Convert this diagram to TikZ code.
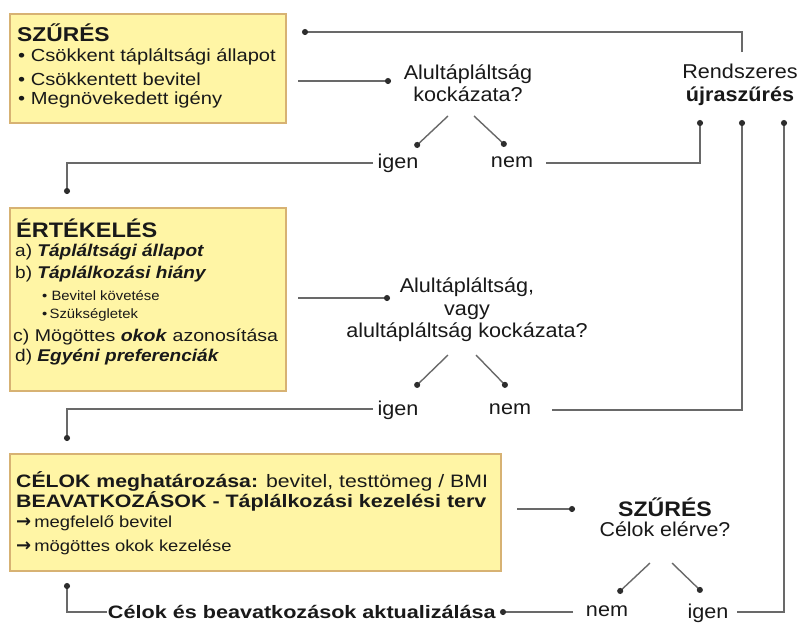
\documentclass[tikz,border=0pt]{standalone}
\usepackage{fontspec}
\setmainfont{Liberation Sans}
\newfontfamily\djv{DejaVu Sans}
\usetikzlibrary{arrows.meta}
\definecolor{boxfill}{RGB}{255,245,165}
\definecolor{boxline}{RGB}{215,178,115}
\definecolor{lin}{RGB}{105,105,105}
\definecolor{dot}{RGB}{45,45,45}
\definecolor{txt}{RGB}{25,25,25}
\newcommand{\fsz}[2]{\fontsize{#1}{#2}\selectfont}
\newcommand{\strc}[1]{\addfontfeature{FakeStretch=#1}}
\newcommand{\rarr}{{\djv\bfseries\fontsize{18}{18}\selectfont\symbol{"2192}}}
\tikzset{
  box/.style={draw=boxline, line width=1.5pt, fill=boxfill, anchor=north west, inner sep=0pt},
  conn/.style={draw=lin, line width=1.4pt, -{Circle[length=6pt, width=6pt, color=dot]}},
  lbl/.style={inner sep=0pt, text=txt, align=center, font={\fsz{20}{22.5}\strc{1.08}}},
  bl/.style={inner sep=0pt, anchor=west, text=txt},
}
\begin{document}
\begin{tikzpicture}[x=1pt,y=-1pt]
\useasboundingbox (0,0) rectangle (800,625);
\fill[white] (0,0) rectangle (800,625);

% ---------- boxes ----------
\node[box, minimum width=276pt, minimum height=109pt] (b1) at (9,13) {};
\node[box, minimum width=276pt, minimum height=183pt] (b2) at (9,207) {};
\node[box, minimum width=491pt, minimum height=117pt] (b3) at (9,453) {};

% box 1 text
\node[bl, font={\bfseries\fsz{20}{22}\strc{1.14}}] (b1h) at (17,33) {SZŰRÉS};
\node[bl, font={\fsz{17.5}{20}\strc{1.15}}] (b1a) at (18,57) {• Csökkent tápláltsági állapot};
\node[bl, font={\fsz{17.5}{20}\strc{1.15}}] (b1b) at (18,79) {• Csökkentett bevitel};
\node[bl, font={\fsz{17.5}{20}\strc{1.15}}] (b1c) at (18,100) {• Megnövekedett igény};

% box 2 text
\node[bl, font={\bfseries\fsz{21}{22}\strc{1.12}}] (b2h) at (16,228) {ÉRTÉKELÉS};
\node[bl, font={\fsz{17}{20}\strc{1.12}}] (b2a) at (15,252) {a) \textbf{\textit{Tápláltsági állapot}}};
\node[bl, font={\fsz{17}{20}\strc{1.12}}] (b2b) at (15,274) {b) \textbf{\textit{Táplálkozási hiány}}};
\node[bl, font={\fsz{13.5}{15}\strc{1.1}}] (b2c) at (42,296) {• Bevitel követése};
\node[bl, font={\fsz{13.5}{15}\strc{1.1}}] (b2d) at (42,315) {•\,Szükségletek};
\node[bl, font={\fsz{17}{20}\strc{1.15}}] (b2e) at (13,337) {c) Mögöttes \textbf{\textit{okok}} azonosítása};
\node[bl, font={\fsz{17}{20}\strc{1.12}}] (b2f) at (15,357) {d) \textbf{\textit{Egyéni preferenciák}}};

% box 3 text
\node[bl, font={\fsz{18}{20}\strc{1.18}}] (b3a) at (16,481) {\textbf{CÉLOK meghatározása:} bevitel, testtömeg / BMI};
\node[bl, font={\bfseries\fsz{18}{20}\strc{1.19}}] (b3b) at (16,501) {BEAVATKOZÁSOK - Táplálkozási kezelési terv};
\node[bl, font={\fsz{16}{18}\strc{1.15}}] (b3c) at (16,523) {\rarr\kern3pt megfelelő bevitel};
\node[bl, font={\fsz{16}{18}\strc{1.15}}] (b3d) at (16,547) {\rarr\kern3pt mögöttes okok kezelése};

% ---------- decision texts ----------
\node[lbl] (q1) at (468,83) {Alultápláltság\\kockázata?};
\node[lbl] (rs) at (740,85) {Rendszeres\\\textbf{újraszűrés}};
\node[lbl] (igen1) at (398,163) {igen};
\node[lbl] (nem1) at (512,162) {nem};

\node[lbl] (q2) at (467,310) {Alultápláltság,\\vagy\\alultápláltság kockázata?};
\node[lbl] (igen2) at (398,410) {igen};
\node[lbl] (nem2) at (510,409) {nem};

\node[lbl, font={\bfseries\fsz{21}{22}\strc{1.1}}] (sz3) at (665,507) {SZŰRÉS};
\node[lbl, font={\fsz{20}{22}\strc{1.07}}] (ce3) at (665,529) {Célok elérve?};
\node[lbl] (nem3) at (607,611) {nem};
\node[lbl] (igen3) at (708,613) {igen};
\node[lbl, font={\bfseries\fsz{18}{20}\strc{1.2}}, anchor=east] (akt) at (496,612) {Célok és beavatkozások aktualizálása};

% ---------- coordinates ----------
\coordinate (rsTop) at (742,52);
\coordinate (topEnd) at (302,32);
\coordinate (b1out) at (298,81);
\coordinate (q1in) at (391,81);
\coordinate (q1l) at (448,116);
\coordinate (q1r) at (474,116);
\coordinate (ig1e) at (415,147);
\coordinate (ne1e) at (506,146);
\coordinate (ne1out) at (546,163);
\coordinate (rsIn1) at (700,120);
\coordinate (ig1out) at (373,163);
\coordinate (b2in) at (67,194);

\coordinate (b2out) at (298,298);
\coordinate (q2in) at (390,298);
\coordinate (q2l) at (448,355);
\coordinate (q2r) at (476,355);
\coordinate (ig2e) at (415,387);
\coordinate (ne2e) at (507,387);
\coordinate (ne2out) at (552,410);
\coordinate (rsIn2) at (742,120);
\coordinate (ig2out) at (373,409);
\coordinate (b3in) at (67,441);

\coordinate (b3out) at (517,509);
\coordinate (szin) at (575,509);
\coordinate (q3l) at (650,563);
\coordinate (q3r) at (672,563);
\coordinate (ne3e) at (618,593);
\coordinate (ig3e) at (702,592);
\coordinate (ig3out) at (737,612);
\coordinate (rsIn3) at (784,120);
\coordinate (ne3out) at (573,612);
\coordinate (aktin) at (500,612);
\coordinate (aktout) at (107,612);
\coordinate (b3back) at (67,583);

% ---------- connectors ----------
\draw[conn] (rsTop) |- (topEnd);
\draw[conn] (b1out) -- (q1in);
\draw[conn] (q1l) -- (ig1e);
\draw[conn] (q1r) -- (ne1e);
\draw[conn] (ne1out) -| (rsIn1);
\draw[conn] (ig1out) -| (b2in);

\draw[conn] (b2out) -- (q2in);
\draw[conn] (q2l) -- (ig2e);
\draw[conn] (q2r) -- (ne2e);
\draw[conn] (ne2out) -| (rsIn2);
\draw[conn] (ig2out) -| (b3in);

\draw[conn] (b3out) -- (szin);
\draw[conn] (q3l) -- (ne3e);
\draw[conn] (q3r) -- (ig3e);
\draw[conn] (ig3out) -| (rsIn3);
\draw[conn] (ne3out) -- (aktin);
\draw[conn] (aktout) -| (b3back);
\end{tikzpicture}
\end{document}
